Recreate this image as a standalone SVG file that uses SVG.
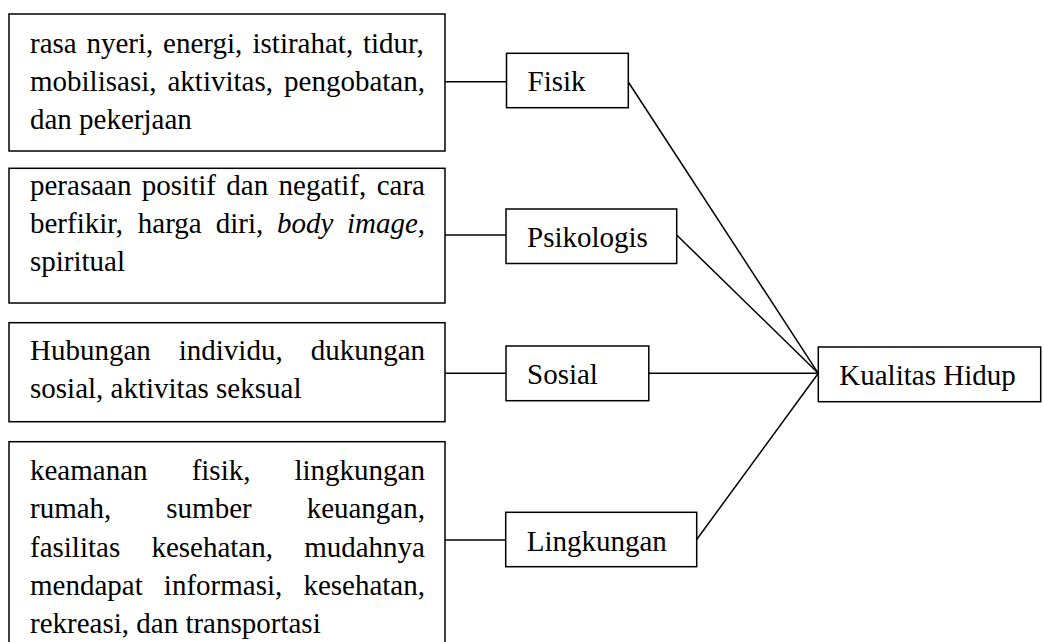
<svg xmlns="http://www.w3.org/2000/svg" width="1044" height="642" viewBox="0 0 1044 642">
<style>
text{font-family:'Liberation Serif',Tinos,'Times New Roman',Times,serif;font-size:29px;fill:#000}
.i{font-style:italic}
.b{fill:#fff;stroke:#000;stroke-width:1.5}
.c{fill:none;stroke:#000;stroke-width:1.5}
</style>
<rect width="1044" height="642" fill="#fff"/>
<g id="connectors">
<line class="c" x1="445" y1="81.7" x2="506.5" y2="81.7"/>
<line class="c" x1="445" y1="235" x2="506" y2="235"/>
<line class="c" x1="445" y1="373.3" x2="506" y2="373.3"/>
<line class="c" x1="445" y1="540" x2="505.7" y2="540"/>
<line class="c" x1="628.3" y1="82" x2="818.3" y2="373.3"/>
<line class="c" x1="676.7" y1="235" x2="818.3" y2="373.3"/>
<line class="c" x1="648.8" y1="373.3" x2="818.3" y2="373.3"/>
<line class="c" x1="696.7" y1="539.5" x2="818.3" y2="373.3"/>
</g>
<g id="desc-fisik">
<rect class="b" x="9" y="14" width="436" height="137"/>
<text font-family="Liberation Serif, serif" y="52.7"><tspan x="30">rasa</tspan><tspan x="86.44">nyeri,</tspan><tspan x="163.04">energi,</tspan><tspan x="252.51">istirahat,</tspan><tspan x="362.95">tidur,</tspan></text>
<text y="90.8"><tspan x="30">mobilisasi,</tspan><tspan x="167.51">aktivitas,</tspan><tspan x="284.05">pengobatan,</tspan></text>
<text x="30" y="128.9">dan pekerjaan</text>
</g>
<g id="desc-psikologis">
<rect class="b" x="9" y="168.3" width="436" height="134.7"/>
<text y="195"><tspan x="30">perasaan</tspan><tspan x="141.81">positif</tspan><tspan x="226.3">dan</tspan><tspan x="278.55">negatif,</tspan><tspan x="376.7">cara</tspan></text>
<text y="233"><tspan x="30">berfikir,</tspan><tspan x="137.81">harga</tspan><tspan x="215.81">diri,</tspan><tspan x="276.93" class="i">body</tspan><tspan x="346.9" class="i">image</tspan><tspan>,</tspan></text>
<text x="30" y="270.5">spiritual</text>
</g>
<g id="desc-sosial">
<rect class="b" x="9" y="322.7" width="436" height="99"/>
<text y="360"><tspan x="30">Hubungan</tspan><tspan x="178.75">individu,</tspan><tspan x="310.63">dukungan</tspan></text>
<text x="30" y="398.2">sosial, aktivitas seksual</text>
</g>
<g id="desc-lingkungan">
<rect class="b" x="9" y="441.7" width="436" height="230"/>
<text y="480"><tspan x="30">keamanan</tspan><tspan x="191.63">fisik,</tspan><tspan x="294.5">lingkungan</tspan></text>
<text y="518.3"><tspan x="30">rumah,</tspan><tspan x="166.3">sumber</tspan><tspan x="306.63">keuangan,</tspan></text>
<text y="556.7"><tspan x="30">fasilitas</tspan><tspan x="151.41">kesehatan,</tspan><tspan x="304.2">mudahnya</tspan></text>
<text y="595"><tspan x="30">mendapat</tspan><tspan x="163.87">informasi,</tspan><tspan x="303.4">kesehatan,</tspan></text>
<text x="30" y="633.3">rekreasi, dan transportasi</text>
</g>
<g id="fisik">
<rect class="b" x="506.5" y="53.3" width="121.8" height="54.4"/>
<text x="527.5" y="90.7">Fisik</text>
</g>
<g id="psikologis">
<rect class="b" x="506" y="209" width="170.7" height="54.5"/>
<text x="527" y="246.7">Psikologis</text>
</g>
<g id="sosial">
<rect class="b" x="506" y="346" width="142.8" height="54.7"/>
<text x="527" y="383.5">Sosial</text>
</g>
<g id="lingkungan">
<rect class="b" x="505.7" y="512.3" width="191" height="54.4"/>
<text x="526.7" y="551">Lingkungan</text>
</g>
<g id="kualitas-hidup">
<rect class="b" x="818.3" y="347" width="222.4" height="54.7"/>
<text x="839.3" y="385">Kualitas Hidup</text>
</g>
</svg>
